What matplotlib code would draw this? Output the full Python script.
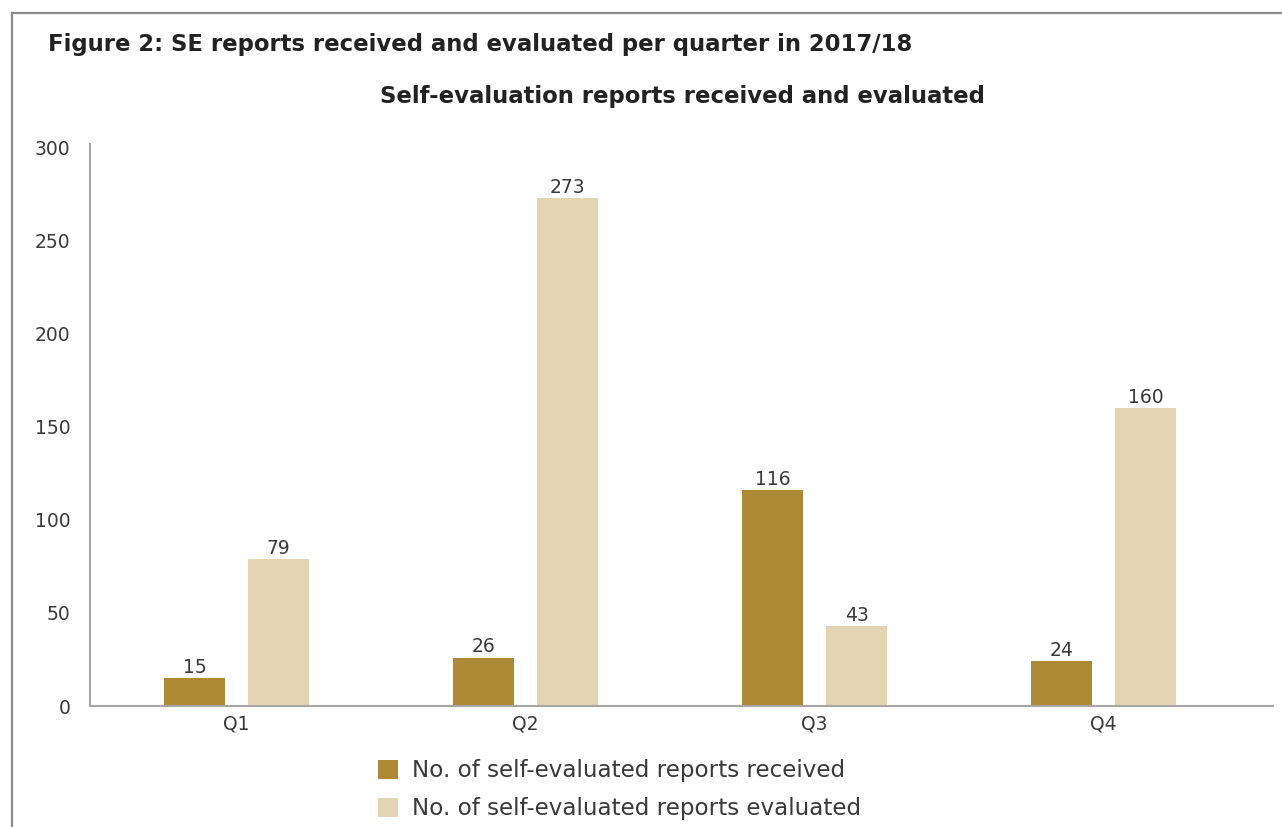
import matplotlib.pyplot as plt
from matplotlib.lines import Line2D
import numpy as np

# data
quarters = ['Q1', 'Q2', 'Q3', 'Q4']
received = [15, 26, 116, 24]
evaluated = [79, 273, 43, 160]
labels = ['No. of self-evaluated reports received', 'No. of self-evaluated reports evaluated']

col_recv = '#AC8A36'
col_eval = '#E3D4B4'
txt_col = '#3A3A3A'

plt.rcParams['font.family'] = ['DejaVu Sans']

fig = plt.figure(figsize=(12.82, 8.27), dpi=100)
ax = fig.add_axes([90/1282, 1-706/827, (1273-90)/1282, (706-144)/827])

x = np.arange(len(quarters))
w = 0.211
off = 0.145
b1 = ax.bar(x - off, received, w, color=col_recv, label=labels[0])
b2 = ax.bar(x + off, evaluated, w, color=col_eval, label=labels[1])
ax.bar_label(b1, padding=1, fontsize=13.5, color=txt_col)
ax.bar_label(b2, padding=1, fontsize=13.5, color=txt_col)

# ~289 px per category, Q1 centred at x=236
ax.set_xlim(-0.507, 3.586)
ax.set_ylim(0, 302)
ax.set_yticks(range(0, 301, 50))
ax.set_xticks(x)
ax.set_xticklabels(quarters)
ax.tick_params(length=0, labelsize=13.5, labelcolor=txt_col)
ax.tick_params(axis='y', pad=14)
ax.tick_params(axis='x', pad=6)
for s in ['top', 'right']:
    ax.spines[s].set_visible(False)
for s in ['left', 'bottom']:
    ax.spines[s].set_color('#A6A6A6')
    ax.spines[s].set_linewidth(1.5)

# titles
fig.text(48/1282, 1-45/827, 'Figure 2: SE reports received and evaluated per quarter in 2017/18',
         fontsize=16.4, fontweight='bold', color='#222222', va='center', ha='left')
fig.text(682/1282, 1-97/827, 'Self-evaluation reports received and evaluated',
         fontsize=16.4, fontweight='bold', color='#222222', va='center', ha='center')

# legend
fig.legend(handles=[b1, b2], labels=labels, loc='upper left',
           bbox_to_anchor=(369/1282, 1-750/827), frameon=False,
           fontsize=16.6, labelcolor=txt_col, handlelength=0.86, handleheight=0.9,
           handletextpad=0.6, labelspacing=0.65, borderaxespad=0)

# frame around the figure
fig.add_artist(Line2D([12/1282, 12/1282], [0, 1-13/827], color='#8C8C8C', lw=1.6,
                      transform=fig.transFigure))
fig.add_artist(Line2D([12/1282, 1], [1-13/827, 1-13/827], color='#8C8C8C', lw=1.6,
                      transform=fig.transFigure))

plt.savefig('out.png', dpi=100)
